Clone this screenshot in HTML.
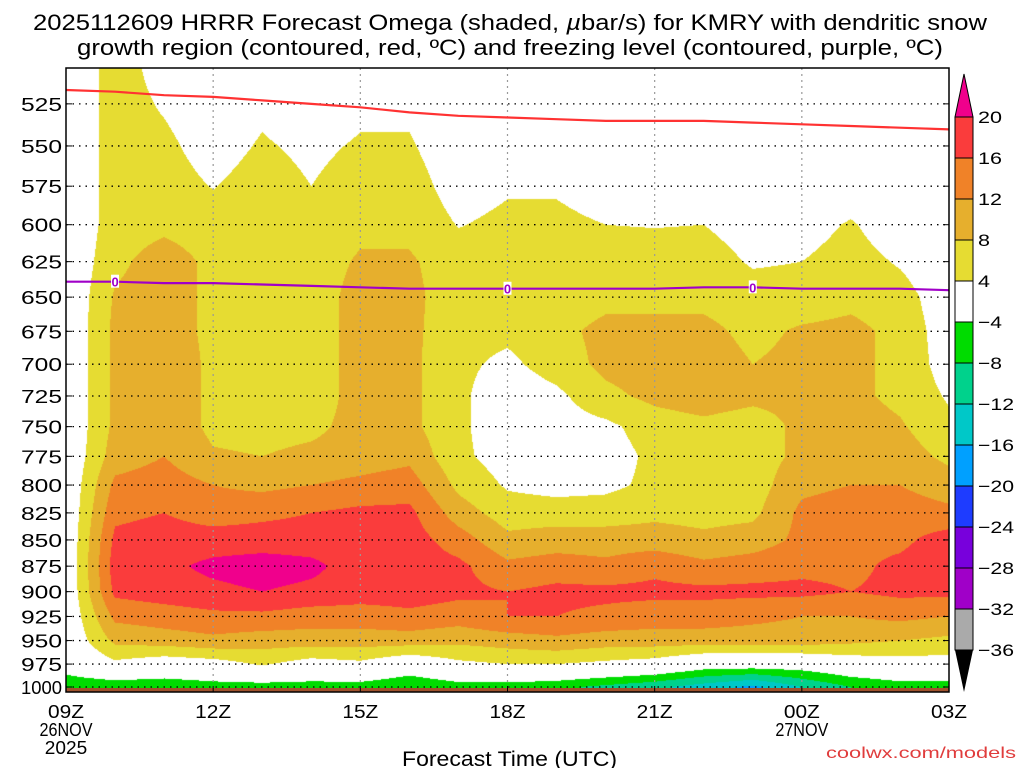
<!DOCTYPE html>
<html><head><meta charset="utf-8">
<style>
body{margin:0;background:#fff;width:1024px;height:768px;overflow:hidden;font-family:"Liberation Sans",sans-serif;}
#wrap{position:relative;width:1024px;height:768px;}
canvas{position:absolute;left:66px;top:68px;}
svg{position:absolute;left:0;top:0;}
</style></head>
<body>
<div id="wrap">
<canvas id="cv" width="883" height="624"></canvas>
<svg id="sv" width="1024" height="768"></svg>
</div>
<script>
const hours = ["09Z","10Z","11Z","12Z","13Z","14Z","15Z","16Z","17Z","18Z","19Z","20Z","21Z","22Z","23Z","00Z","01Z","02Z","03Z"];
const levels = [500,525,550,575,600,625,650,675,700,725,750,775,800,825,850,875,900,925,950,975,1000];
const omegaH0 = [0,0,0,0,0,0,0,0,0,0,0,0,0,0,0,0,0,0,0,-1.5,-7];
const omegaH1 = [6,6,6,6,6,7,8.5,9,9,9,9,10,13,15,17,18,17,13,9,3,-7];
const omegaH2 = [2,3.5,5,6,7,10,10,10,11,11,11,12,14,16,18,19,18,14,10,1,-7];
const omegaH3 = [0,1,2,3.8,6,7,7,7,7,7,7,8.5,12,14,18,21,19,15,11,2,-6];
const omegaH4 = [1,3,4.5,6,6,6,6,6,6,6,6.5,8,11,15,18,22,20,15,10,4.5,-6];
const omegaH5 = [0,1,3,4,6,6,6,6,6,6,7,9,12,16,18,21,19,14,10,2,-6];
const omegaH6 = [1,3,4.5,6,7,8.5,9.5,9.5,9.5,9.5,9.5,10,13,17,18,18,18,14,10,3,-6];
const omegaH7 = [1,3,4.5,6,7,8.5,9,9,9,9,9,11,14,17,18,18,18,15,10,0,-8];
const omegaH8 = [0,0,1,2,3.8,6,6,5.5,5,5,5,5,7,10,14,17,17,14,9,3,-6];
const omegaH9 = [0,1,2,3.5,5,6,5.5,5,3,1,1,2,3.5,6,9,13,16,16,10,4,-6];
const omegaH10 = [0,1,2,3.5,5,6,6,7,6,3,2,2,2.5,6,10,14,17,16,11,4,-7];
const omegaH11 = [0,0,1,2,4,6,7,9,9,7,3,2,3,6,10,13,17,15,10,3,-9];
const omegaH12 = [0,0,1,2,3.8,6,7,9,10,9,6,5,5,7,10,15,17,14,10,2,-11];
const omegaH13 = [0,0,1,2,4,6,7,9,10,10,7,6,6,6.5,9,13,17,14,10,-1,-14];
const omegaH14 = [0,0,0,1,2,3.5,6,7,8,9,6,6,6,7,10,14,17,13,10,-1,-17];
const omegaH15 = [0,0,0,1,2,4,6,8.5,9,9,9,9,11,13,13,15,17,12,10,-1,-12];
const omegaH16 = [0,0,0,1,4.5,6,7,9,9,9,10,11,12,14,15,15,16,12,9,1,-8];
const omegaH17 = [0,0,0,0,1,3.5,6,7,7,7,8.5,10,12,14,15,17,17,13,8,2,-6];
const omegaH18 = [0,0,0,0,0,0,1,1.5,2,3.5,5,7,10,13,18,19,17,12,7,2,-6];
const dgzLine = [517,518,520,521,523,525,527,530,532,533,534,535,535,535,536,537,538,539,540];
const frzLine = [639,639,640,640,641,642,643,644,644,644,644,644,644,643,643,644,644,644,645];
const frzLabelHours = [1,9,14];
const yTicks = [525,550,575,600,625,650,675,700,725,750,775,800,825,850,875,900,925,950,975,1000];
const xTickHours = [0,3,6,9,12,15,18];
const xTickLabels = ["09Z","12Z","15Z","18Z","21Z","00Z","03Z"];
const xTickSub = [["26NOV","2025"],[],[],[],[],["27NOV"],[]];
const cbLevels = [20,16,12,8,4,-4,-8,-12,-16,-20,-24,-28,-32,-36];
const cbColors = ["#fa3c3c","#f08228","#e6af2d","#e6dc32","#ffffff","#00dc00","#00d28c","#00c8c8","#00a0ff","#1e3cff","#7800dc","#a000c8","#aaaaaa"];

const omega = [omegaH0,omegaH1,omegaH2,omegaH3,omegaH4,omegaH5,omegaH6,omegaH7,omegaH8,omegaH9,omegaH10,omegaH11,omegaH12,omegaH13,omegaH14,omegaH15,omegaH16,omegaH17,omegaH18];
const X0=66,X1=949,Y0=68,Y1=692;
const xs = h => X0 + h*(X1-X0)/18;
const ys = p => 687 - 905*Math.log(1000/p);
const pOfY = y => 1000*Math.exp(-(687-y)/905);
function colorFor(v){
  if(v>=20) return [240,0,140];
  const th=[16,12,8,4,-4,-8,-12,-16,-20,-24,-28,-32,-36];
  for(let i=0;i<th.length;i++){ if(v>=th[i]){ const c=cbColors[i]; return [parseInt(c.substr(1,2),16),parseInt(c.substr(3,2),16),parseInt(c.substr(5,2),16)]; } }
  return [0,0,0];
}
const cv=document.getElementById('cv'),ctx=cv.getContext('2d');
const W=cv.width,H=cv.height,img=ctx.createImageData(W,H);
const dp=levels[1]-levels[0];
for(let py=0;py<H;py++){
  const p=Math.min(1000,Math.max(levels[0],pOfY(Y0+py+0.5)));
  let r=(p-levels[0])/dp; let r0=Math.min(levels.length-2,Math.floor(r)); let fr=r-r0;
  for(let px=0;px<W;px++){
    const h=(px+0.5)*18/(X1-X0); let c0=Math.min(17,Math.floor(h)); let fc=h-c0;
    const a=omega[c0][r0],b=omega[c0+1][r0],c=omega[c0][r0+1],d=omega[c0+1][r0+1];
    const v=(a*(1-fc)+b*fc)*(1-fr)+(c*(1-fc)+d*fc)*fr;
    const col=colorFor(v); const k=(py*W+px)*4;
    img.data[k]=col[0];img.data[k+1]=col[1];img.data[k+2]=col[2];img.data[k+3]=255;
  }
}
ctx.putImageData(img,0,0);

const NS="http://www.w3.org/2000/svg";
const sv=document.getElementById('sv');
function mk(tag,attrs,parent){const e=document.createElementNS(NS,tag);for(const k in attrs)e.setAttribute(k,attrs[k]);(parent||sv).appendChild(e);return e;}

const ground=mk('rect',{x:X0,y:ys(1000)+1,width:X1-X0,height:Y1-ys(1000)-1,fill:'#a0522d'});



yTicks.forEach(p=>{
  const y=ys(p);
  const g=mk('line',{x1:X0,x2:X1,y1:y,y2:y,stroke:'#000','stroke-width':1.3,'stroke-dasharray':'1.5,5'});
  
  
  mk('line',{x1:X0,x2:X0+6,y1:y,y2:y,stroke:'#000','stroke-width':1});
  mk('line',{x1:X1-6,x2:X1,y1:y,y2:y,stroke:'#000','stroke-width':1});
  const s=String(p);
  const t=mk('text',{x:62-(s.length>3?41:41),y:y+7,'font-size':18,fill:'#000',textLength:s.length>3?41:41,lengthAdjust:'spacingAndGlyphs'});
  t.textContent=s;
  
  
});
xTickHours.forEach((h,i)=>{
  const x=xs(h);
  if(i>0&&i<xTickHours.length-1){
    const g=mk('line',{x1:x,x2:x,y1:Y0,y2:Y1,stroke:'#999','stroke-width':1.2,'stroke-dasharray':'2,4'});
    
    
  }
  mk('line',{x1:x,x2:x,y1:Y1-6,y2:Y1,stroke:'#000'});
  const t=mk('text',{x:x-18,y:718,'font-size':18,textLength:36,lengthAdjust:'spacingAndGlyphs'});
  t.textContent=xTickLabels[i];
  
  
  xTickSub[i].forEach((s,j)=>{
    const wd=s.length*10.6;
    const u=mk('text',{x:x-wd/2,y:736+j*18,'font-size':18,textLength:wd,lengthAdjust:'spacingAndGlyphs'});
    u.textContent=s;
    
    
  });
});

function linePath(arr){return arr.map((p,i)=>(i?'L':'M')+xs(i).toFixed(1)+','+ys(p).toFixed(1)).join(' ');}
const dgz=mk('path',{d:linePath(dgzLine),fill:'none',stroke:'#ff3232','stroke-width':2.2});


const frz=mk('path',{d:linePath(frzLine),fill:'none',stroke:'#a000c8','stroke-width':2.2});


frzLabelHours.forEach(h=>{
  const x=xs(h), y=ys(frzLine[h]);
  mk('rect',{x:x-4,y:y-7,width:8,height:13,fill:'#fff'});
  const t=mk('text',{x:x,y:y+5,'text-anchor':'middle','font-size':13,fill:'#a000c8','font-weight':'bold'});
  t.textContent='0';
  
  
});

const fr=mk('rect',{x:X0,y:Y0,width:X1-X0,height:Y1-Y0,fill:'none',stroke:'#000','stroke-width':1.5});



const CBX=955,CBW=18,CBT=117,CBS=41;
const up=mk('polygon',{points:`${CBX},${CBT} ${CBX+CBW},${CBT} ${CBX+CBW/2},74`,fill:'#f0008c',stroke:'#000'});


cbColors.forEach((c,i)=>{
  const r=mk('rect',{x:CBX,y:CBT+i*CBS,width:CBW,height:CBS,fill:c,stroke:'#000','stroke-width':1});
  
  
});
const bot=CBT+cbColors.length*CBS;
const dn=mk('polygon',{points:`${CBX},${bot} ${CBX+CBW},${bot} ${CBX+CBW/2},692`,fill:'#000'});


cbLevels.forEach((v,i)=>{
  const s=v<0?'\u2212'+(-v):String(v);
  const t=mk('text',{x:978,y:CBT+i*CBS+6,'font-size':17,textLength:s.length*12,lengthAdjust:'spacingAndGlyphs'});
  t.textContent=s;
  
  
});

const t1=mk('text',{x:33,y:30,'font-size':22,textLength:954,lengthAdjust:'spacingAndGlyphs'});
t1.innerHTML='2025112609 HRRR Forecast Omega (shaded, <tspan font-style="italic">µ</tspan>bar/s) for KMRY with dendritic snow';


const t2=mk('text',{x:77,y:55,'font-size':22,textLength:866,lengthAdjust:'spacingAndGlyphs'});
t2.textContent='growth region (contoured, red, ºC) and freezing level (contoured, purple, ºC)';


const xt=mk('text',{x:402,y:766,'font-size':21,textLength:215,lengthAdjust:'spacingAndGlyphs'});
xt.textContent='Forecast Time (UTC)';


const cr=mk('text',{x:826,y:758,'font-size':16,fill:'#e03c3c',textLength:190,lengthAdjust:'spacingAndGlyphs'});
cr.textContent='coolwx.com/models';


</script>
</body></html>
